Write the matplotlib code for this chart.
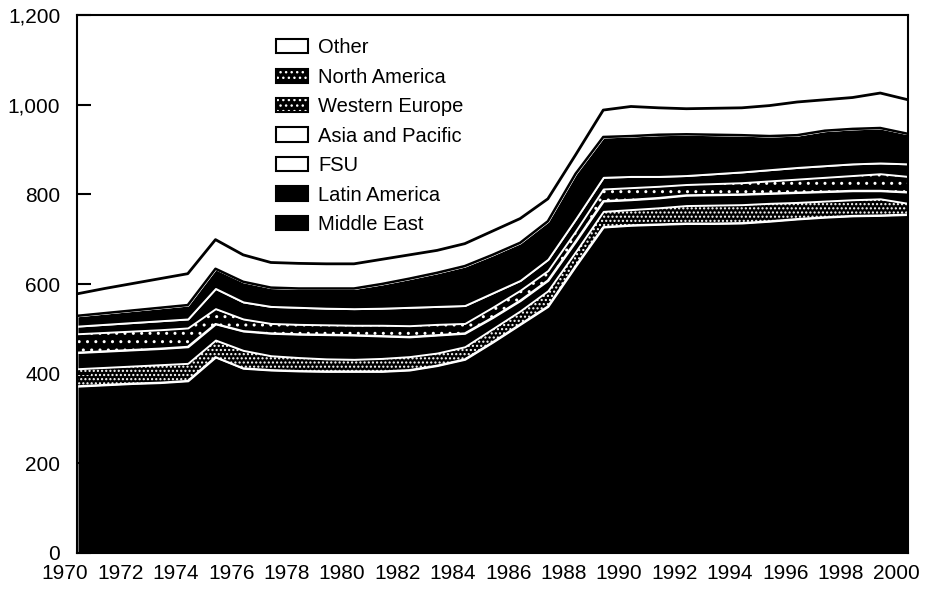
import matplotlib
matplotlib.use("Agg")
import matplotlib.pyplot as plt
from matplotlib.patches import Patch
from matplotlib.transforms import ScaledTranslation

# Years on the x axis
years = list(range(1970, 2001))

# Layer thicknesses, bottom to top
middle_east = [372, 375, 378, 380, 384, 437, 412, 408, 406, 405, 405,
               405, 408, 418, 432, 470, 510, 550, 640, 727, 731,
               733, 735, 735, 736, 740, 745, 749, 752, 753, 755]
latin_america = [39, 39, 39, 40, 39, 38, 40, 32, 30, 28, 27,
                 29, 30, 28, 28, 30, 30, 35, 32, 35, 35,
                 37, 40, 41, 41, 40, 37, 36, 36, 37, 25]
fsu = [36, 36, 36, 36, 37, 36, 43, 50, 52, 54, 54,
       50, 44, 40, 30, 25, 23, 23, 23, 23, 22,
       22, 23, 23, 23, 22, 22, 21, 20, 18, 25]
asia_pacific = [42, 42, 42, 42, 42, 34, 27, 22, 22, 22, 22,
                24, 25, 24, 22, 23, 23, 22, 23, 27, 27,
                26, 24, 25, 26, 28, 30, 32, 34, 38, 35]
western_europe = [17, 18, 19, 20, 20, 45, 38, 38, 38, 37, 37,
                  38, 41, 40, 40, 32, 22, 25, 27, 26, 25,
                  22, 20, 22, 24, 25, 26, 26, 26, 24, 28]
north_america = [23, 25, 27, 29, 31, 44, 45, 42, 42, 44, 45,
                 54, 64, 75, 88, 85, 84, 85, 101, 90, 90,
                 93, 92, 87, 82, 75, 72, 78, 78, 78, 67]
other = [49, 55, 60, 65, 70, 65, 60, 56, 56, 55, 55,
         55, 53, 50, 50, 53, 54, 50, 42, 60, 66,
         60, 57, 59, 61, 68, 74, 69, 70, 78, 76]

legend_labels = ["Other", "North America", "Western Europe",
                 "Asia and Pacific", "FSU", "Latin America", "Middle East"]
y_ticks = [0, 200, 400, 600, 800, 1000, 1200]
y_tick_labels = ["0", "200", "400", "600", "800", "1,000", "1,200"]
x_ticks = list(range(1970, 2001, 2))

plt.rcParams["font.family"] = ["Liberation Sans", "DejaVu Sans"]

fig = plt.figure(figsize=(9.32, 6.06), dpi=100)
ax = fig.add_axes([0.0826, 0.0875, 0.8916, 0.8877])

layers = [middle_east, latin_america, fsu, asia_pacific,
          western_europe, north_america, other]
polys = ax.stackplot(years, *layers, colors=["black"] * 7)

# scanned look: black bands split by white lines, some speckled
hatches = [None, "....", None, "..", None, None, None]
for poly, h in zip(polys, hatches):
    poly.set_edgecolor("white")
    poly.set_linewidth(1.4)
    if h:
        poly.set_hatch(h)
polys[-1].set_facecolor("white")

# black outlines of the top band
top = [sum(v) for v in zip(*layers)]
below_other = [t - o for t, o in zip(top, other)]
ax.plot(years, top, color="black", lw=2)
ax.plot(years, below_other, color="black", lw=1.8)

ax.set_xlim(1970, 2000)
ax.set_ylim(0, 1200)
ax.set_yticks(y_ticks)
ax.set_yticklabels(y_tick_labels, fontsize=15)
ax.set_xticks(x_ticks)
ax.set_xticklabels([str(y) for y in x_ticks], fontsize=15)
ax.tick_params(axis="y", direction="in", length=10, width=1.5, pad=12)
ax.tick_params(axis="x", length=0, pad=8)
for lab in ax.get_xticklabels():
    lab.set_transform(lab.get_transform() + ScaledTranslation(-0.12, 0, fig.dpi_scale_trans))
for sp in ax.spines.values():
    sp.set_linewidth(1.5)

# legend boxes drawn like the printed key
def speckled():
    return (Patch(facecolor="black", edgecolor="white", hatch="...", lw=0),
            Patch(facecolor="none", edgecolor="black", lw=1.5))

handles = [Patch(facecolor="white", edgecolor="black", lw=1.5),
           speckled(),
           speckled(),
           Patch(facecolor="white", edgecolor="black", lw=1.5),
           Patch(facecolor="white", edgecolor="black", lw=1.5),
           Patch(facecolor="black", edgecolor="black", lw=1.5),
           Patch(facecolor="black", edgecolor="black", lw=1.5)]
ax.legend(handles, legend_labels, loc="upper left", bbox_to_anchor=(0.2395, 0.957),
          frameon=False, fontsize=14.5, handlelength=1.6, handleheight=0.7,
          handletextpad=0.5, labelspacing=0.52, borderpad=0, borderaxespad=0)

fig.savefig("out.png", dpi=100)
